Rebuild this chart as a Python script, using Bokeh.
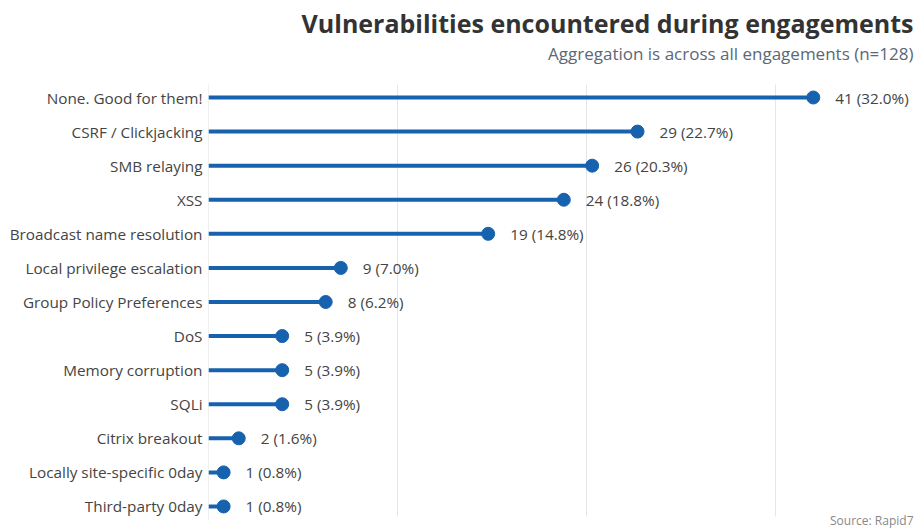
from bokeh.plotting import figure
from bokeh.models import Range1d, ColumnDataSource, FixedTicker
from bokeh.core.properties import value
from bokeh.embed import file_html
from bokeh.resources import INLINE

categories = [
    "None. Good for them!",
    "CSRF / Clickjacking",
    "SMB relaying",
    "XSS",
    "Broadcast name resolution",
    "Local privilege escalation",
    "Group Policy Preferences",
    "DoS",
    "Memory corruption",
    "SQLi",
    "Citrix breakout",
    "Locally site-specific 0day",
    "Third-party 0day",
]
counts = [41, 29, 26, 24, 19, 9, 8, 5, 5, 5, 2, 1, 1]
percents = [32.0, 22.7, 20.3, 18.8, 14.8, 7.0, 6.2, 3.9, 3.9, 3.9, 1.6, 0.8, 0.8]
grid_ticks = [10, 20, 30]
title = "Vulnerabilities encountered during engagements"
subtitle = "Aggregation is across all engagements (n=128)"
source_note = "Source: Rapid7"

FONT = "Open Sans"
BLUE = "#1762ae"
TEXT = "#444444"

# page geometry: the plot frame covers the full height of the canvas so the
# headings can live inside it; rows are 34.08 px apart, 1 % is 18.9 px wide
W, H = 916, 532
LEFT = 208
ROW_PX, FIRST_ROW_PX = 34.08, 97
PCT_PX = 18.9


def ry(py):
    return (py - FIRST_ROW_PX) / ROW_PX


def rx(px):
    return (px - LEFT) / PCT_PX


rows = list(range(len(categories)))
src = ColumnDataSource(dict(
    y=rows,
    x0=[0] * len(rows),
    x=percents,
    label=[f"{c} ({p:.1f}%)" for c, p in zip(counts, percents)],
))

p = figure(
    width=W, height=H,
    x_range=Range1d(0, rx(W)),
    y_range=Range1d(ry(H), ry(0)),
    output_backend="svg", toolbar_location=None,
    min_border_left=LEFT, min_border_right=0,
    min_border_top=0, min_border_bottom=0,
)
p.outline_line_color = None
p.background_fill_color = "white"
p.border_fill_color = "white"
p.grid.visible = False

# category axis (labels only; the axis line is drawn below as a segment)
p.xaxis.visible = False
p.yaxis.ticker = FixedTicker(ticks=rows)
p.yaxis.major_label_overrides = {i: c for i, c in enumerate(categories)}
p.yaxis.axis_line_color = None
p.yaxis.major_tick_line_color = None
p.yaxis.major_tick_out = 0
p.yaxis.major_tick_in = 0
p.yaxis.minor_tick_line_color = None
p.yaxis.major_label_text_font = FONT
p.yaxis.major_label_text_font_size = "15.3px"
p.yaxis.major_label_text_color = TEXT
p.yaxis.major_label_standoff = 6

# vertical reference lines at 10 %, 20 %, 30 % and the baseline
p.segment(x0=grid_ticks, x1=grid_ticks,
          y0=[ry(84)] * len(grid_ticks), y1=[ry(516)] * len(grid_ticks),
          line_color="#e6e6e6", line_width=1)
p.segment(x0=[0], x1=[0], y0=[ry(84)], y1=[ry(520)],
          line_color="#e2e2e2", line_width=1)

# lollipops
p.segment(x0="x0", y0="y", x1="x", y1="y", source=src,
          line_color=BLUE, line_width=4)
p.scatter(x="x", y="y", source=src, size=13, marker="circle",
          fill_color=BLUE, line_color=BLUE)
p.text(x="x", y="y", text="label", source=src, x_offset=22,
       text_baseline="middle", text_align="left",
       text_font=value(FONT), text_font_size="15.3px", text_color=TEXT)

# headings and source note, right-aligned
right = rx(913)
p.text(x=[right], y=[ry(22)], text=[title], text_align="right",
       text_baseline="alphabetic", text_font=value(FONT),
       text_font_size="25px", text_font_style="bold", text_color="#333333")
p.text(x=[right], y=[ry(53)], text=[subtitle], text_align="right",
       text_baseline="alphabetic", text_font=value(FONT),
       text_font_size="17px", text_color="#5a6878")
p.text(x=[right], y=[ry(520)], text=[source_note], text_align="right",
       text_baseline="alphabetic", text_font=value(FONT),
       text_font_size="12px", text_color="#888888")

open("out.html", "w").write(file_html(p, INLINE))
